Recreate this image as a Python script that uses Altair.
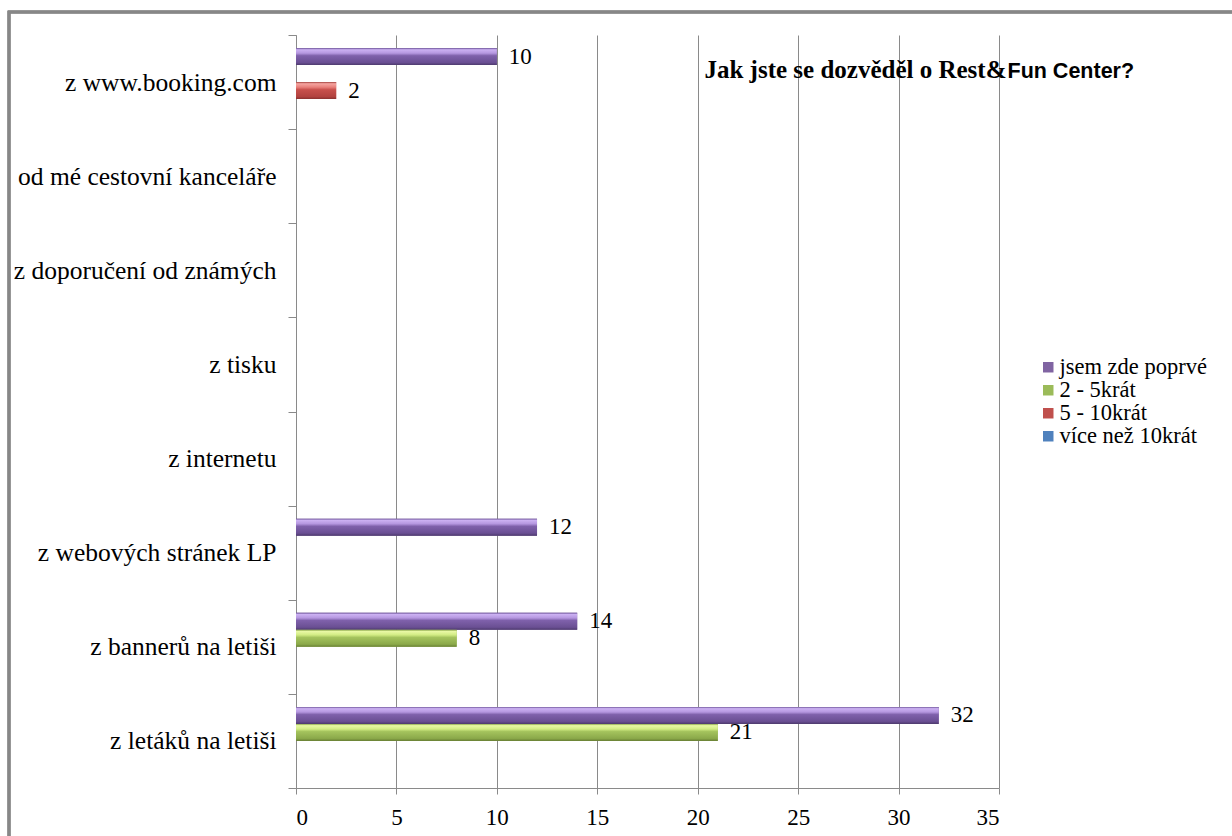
import altair as alt
import pandas as pd

# Survey answers: where respondents heard about the centre, split by number of visits
categories = [
    "z www.booking.com",
    "od mé cestovní kanceláře",
    "z doporučení od známých",
    "z tisku",
    "z internetu",
    "z webových stránek LP",
    "z bannerů na letiši",
    "z letáků na letiši",
]
series = ["jsem zde poprvé", "2 - 5krát", "5 - 10krát", "více než 10krát"]

first_visit = [10, None, None, None, None, 12, 14, 32]
visits_2_5 = [None, None, None, None, None, None, 8, 21]
visits_5_10 = [2, None, None, None, None, None, None, None]
visits_10_plus = [None, None, None, None, None, None, None, None]

series_colors = ["#8064A2", "#9BBB59", "#C0504D", "#4F81BD"]

# Bevelled look: light highlight on top, darker body towards the bottom edge
shades = {
    "jsem zde poprvé": ["#6f569a", "#cbb0f2", "#b597e0", "#7f61ab", "#6a4f93", "#4d3a6d"],
    "2 - 5krát": ["#8aa64b", "#e8f8a4", "#d2ec84", "#a4c35d", "#8ba94a", "#687f34"],
    "5 - 10krát": ["#a44340", "#f5a4a0", "#e8807b", "#c8504c", "#b2423f", "#8a312f"],
    "více než 10krát": ["#3f6ea8", "#a8cbf5", "#86b0e6", "#5286c4", "#416fab", "#2f5586"],
}
offsets = [0.0, 0.1, 0.3, 0.45, 0.85, 1.0]

rows = []
for cat, a, b, c, d in zip(categories, first_visit, visits_2_5, visits_5_10, visits_10_plus):
    for s, v in zip(series, [a, b, c, d]):
        if v is not None:
            rows.append({"zdroj": cat, "serie": s, "pocet": v})
df = pd.DataFrame(rows)

serif = "Liberation Serif"
grid_gray = "#8a8a8a"

# Category bands fill the whole step so that the interval ticks sit between groups;
# the gap around each group of bars comes from the offset scale's outer padding.
y_enc = alt.Y(
    "zdroj:N",
    sort=categories,
    scale=alt.Scale(domain=categories, paddingInner=0, paddingOuter=0),
    axis=alt.Axis(
        title="Jak jste se dozvěděl o Rest&",
        titleAngle=0,
        titleAlign="right",
        titleBaseline="alphabetic",
        titleX=710,
        titleY=42,
        titleFont=serif,
        titleFontSize=25,
        titleFontWeight="bold",
        titleColor="#000000",
        labelFont=serif,
        labelFontSize=25.5,
        labelColor="#000000",
        labelPadding=12,
        labelLimit=400,
        tickBand="extent",
        tickSize=8,
        tickColor=grid_gray,
        domainColor=grid_gray,
        grid=False,
    ),
)
y_off = alt.YOffset(
    "serie:N",
    sort=series,
    scale=alt.Scale(domain=series, paddingInner=0, paddingOuter=0.768),
)

x_enc = alt.X(
    "pocet:Q",
    scale=alt.Scale(domain=[0, 35], nice=False),
    axis=alt.Axis(
        values=[0, 5, 10, 15, 20, 25, 30, 35],
        title="Fun Center?",
        titleAngle=0,
        titleAlign="left",
        titleBaseline="alphabetic",
        titleX=711,
        titleY=-711,
        titleFont="Liberation Sans",
        titleFontSize=21.5,
        titleFontWeight="bold",
        titleColor="#000000",
        labelFont=serif,
        labelFontSize=23,
        labelColor="#000000",
        labelPadding=12,
        tickSize=6,
        tickColor=grid_gray,
        domainColor=grid_gray,
        gridColor=grid_gray,
        gridWidth=1,
    ),
)

base = alt.Chart(df)

bars = base.mark_bar().encode(
    x=x_enc,
    y=y_enc,
    yOffset=y_off,
    color=alt.Color(
        "serie:N",
        sort=series,
        scale=alt.Scale(domain=series, range=series_colors),
        legend=alt.Legend(
            title=None,
            orient="none",
            legendX=741,
            legendY=321,
            symbolType="square",
            symbolSize=110,
            symbolStrokeWidth=0,
            labelFont=serif,
            labelFontSize=22.5,
            labelColor="#000000",
            labelOffset=0,
            rowPadding=0,
            labelLimit=300,
        ),
    ),
)

overlays = []
for s in series:
    grad = alt.LinearGradient(
        gradient="linear",
        x1=0, y1=0, x2=0, y2=1,
        stops=[alt.GradientStop(offset=o, color=c) for o, c in zip(offsets, shades[s])],
    )
    overlays.append(
        base.transform_filter(alt.datum.serie == s)
        .mark_bar(fill=grad)
        .encode(x=x_enc, y=y_enc, yOffset=y_off)
    )

labels = base.mark_text(
    align="left", baseline="middle", dx=12, font=serif, fontSize=23, color="#000000"
).encode(x=x_enc, y=y_enc, yOffset=y_off, text=alt.Text("pocet:Q"))

# Outer frame around the whole chart object
frame = base.mark_rect(fill="transparent", stroke="#878787", strokeWidth=2.5).encode(
    x=alt.value(-287), x2=alt.value(960), y=alt.value(-23), y2=alt.value(830)
)

chart = (
    alt.layer(bars, *overlays, labels, frame)
    .properties(
        width=703,
        height=753,
        autosize=alt.AutoSizeParams(type="none"),
        padding={"left": 296, "top": 35, "right": 233, "bottom": 48},
        background="#ffffff",
    )
    .configure(font=serif)
    .configure_legend(labelFont=serif)
    .configure_axis(labelFont=serif)
    .configure_view(stroke=None)
)

chart.save("out.html", embed_options={"renderer": "svg", "actions": False})
